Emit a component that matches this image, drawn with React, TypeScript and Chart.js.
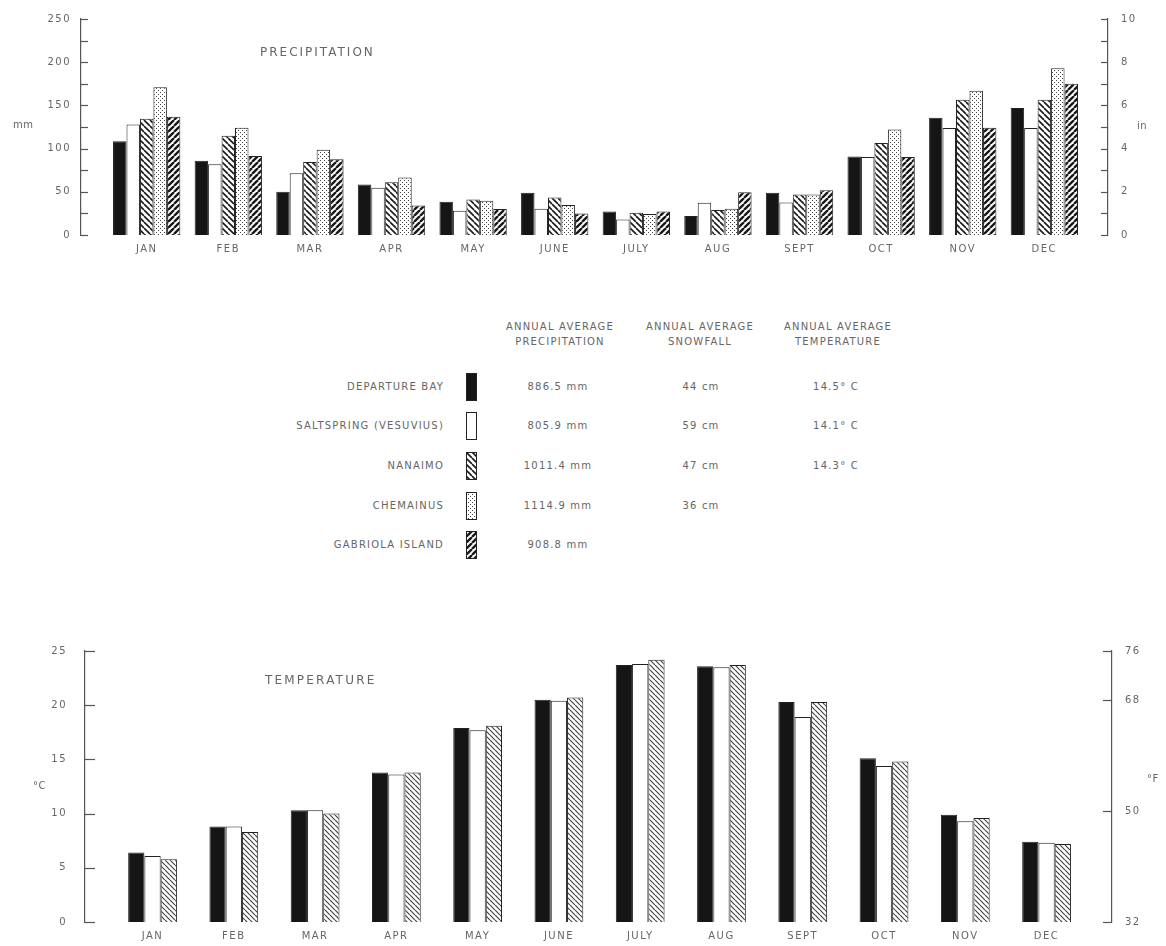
import React, { useEffect, useRef } from 'react';
import { Chart, registerables } from 'chart.js';

Chart.register(...registerables);

const FONT = '"DejaVu Sans", sans-serif';
const TEXT = '#666';
const AXIS = '#555';

// ---------- data ----------
const months = ['JAN', 'FEB', 'MAR', 'APR', 'MAY', 'JUNE', 'JULY', 'AUG', 'SEPT', 'OCT', 'NOV', 'DEC'];
const stations = ['DEPARTURE BAY', 'SALTSPRING (VESUVIUS)', 'NANAIMO', 'CHEMAINUS', 'GABRIOLA ISLAND'];

// monthly precipitation, mm
const precipDepartureBay = [108.5, 85.8, 50, 58.5, 38.5, 48.8, 27.3, 22, 48.8, 91, 135.8, 147];
const precipSaltspring = [128, 82, 71.5, 54.6, 28, 30.4, 18, 37.3, 37.7, 90.4, 123.8, 123.8];
const precipNanaimo = [134.6, 115, 84.6, 61, 41, 43.5, 25.8, 28.8, 46.9, 106.5, 156.5, 156.5];
const precipChemainus = [171, 124, 98.8, 66.5, 39.6, 34.6, 24.2, 30.4, 46.9, 122, 167, 193];
const precipGabriola = [137, 91.5, 87.7, 34, 30, 25, 27.3, 49.6, 51.9, 90.4, 124, 175];

// monthly mean temperature, °C
const tempDepartureBay = [6.4, 8.8, 10.3, 13.8, 17.9, 20.5, 23.7, 23.6, 20.3, 15.1, 9.9, 7.4];
const tempSaltspring = [6.1, 8.8, 10.3, 13.6, 17.7, 20.4, 23.8, 23.5, 18.9, 14.4, 9.3, 7.3];
const tempNanaimo = [5.8, 8.3, 10.0, 13.8, 18.1, 20.7, 24.2, 23.7, 20.3, 14.8, 9.6, 7.2];

// axis ticks
const fahrenheitTicks = [32, 50, 68, 76];

// annual table
const annualPrecip = ['886.5 mm', '805.9 mm', '1011.4 mm', '1114.9 mm', '908.8 mm'];
const annualSnow = ['44 cm', '59 cm', '47 cm', '36 cm', ''];
const annualTemp = ['14.5° C', '14.1° C', '14.3° C', '', ''];

// ---------- patterns ----------
type Kind = 'solid' | 'white' | 'back' | 'dots' | 'fwd' | 'backLight';

function makePattern(kind: Kind): CanvasPattern | string {
  if (kind === 'solid') return '#151515';
  if (kind === 'white') return '#ffffff';
  const size = kind === 'dots' ? 4 : kind === 'backLight' ? 5 : 6;
  const c = document.createElement('canvas');
  c.width = size;
  c.height = size;
  const g = c.getContext('2d')!;
  g.fillStyle = '#fff';
  g.fillRect(0, 0, size, size);
  if (kind === 'dots') {
    g.fillStyle = '#444';
    g.fillRect(0, 0, 1, 1);
    g.fillRect(2, 2, 1, 1);
  } else {
    g.strokeStyle = kind === 'backLight' ? '#444' : '#1a1a1a';
    g.lineWidth = kind === 'fwd' ? 2.4 : kind === 'backLight' ? 1.2 : 1.6;
    g.beginPath();
    for (const o of [-size, 0, size]) {
      if (kind === 'fwd') {
        g.moveTo(o, size);
        g.lineTo(o + size, 0);
      } else {
        g.moveTo(o, 0);
        g.lineTo(o + size, size);
      }
    }
    g.stroke();
  }
  return g.createPattern(c, 'repeat')!;
}

const stationKinds: Kind[] = ['solid', 'white', 'back', 'dots', 'fwd'];

// ---------- plugin: inward tick marks + letter spacing ----------
const inwardTicks = {
  id: 'inwardTicks',
  beforeUpdate(chart: any) {
    chart.ctx.letterSpacing = '1.5px';
  },
  beforeDraw(chart: any) {
    chart.ctx.letterSpacing = '1.5px';
  },
  afterDraw(chart: any, _args: any, opts: any) {
    const { ctx, chartArea } = chart;
    ctx.save();
    ctx.strokeStyle = AXIS;
    ctx.lineWidth = 1.2;
    for (const id of ['y', 'y1']) {
      const s = chart.scales[id];
      if (!s) continue;
      const left = id === 'y';
      const x0 = left ? chartArea.left : chartArea.right;
      const len = left ? opts.leftLen : opts.rightLen;
      for (const t of s.ticks) {
        const y = Math.round(s.getPixelForValue(t.value)) + 0.5;
        ctx.beginPath();
        ctx.moveTo(x0, y);
        ctx.lineTo(left ? x0 + len : x0 - len, y);
        ctx.stroke();
      }
    }
    ctx.restore();
  },
};

const toPoints = (vals: number[]) => vals.map((v, i) => ({ x: i + 1, y: v }));

const noGrid = { display: false, drawTicks: false, tickLength: 0 };

function xScale(min: number, max: number, height: number, padding: number) {
  return {
    type: 'linear',
    min,
    max,
    offset: false,
    grid: { ...noGrid, offset: false },
    border: { display: false },
    afterBuildTicks: (s: any) => {
      s.ticks = months.map((_, i) => ({ value: i + 1 }));
    },
    afterFit: (s: any) => {
      s.height = height;
    },
    ticks: {
      autoSkip: false,
      maxRotation: 0,
      padding,
      color: TEXT,
      font: { family: FONT, size: 10 },
      callback: (v: any) => months[Math.round(Number(v)) - 1] ?? '',
    },
  };
}

function PrecipChart() {
  const ref = useRef<HTMLCanvasElement>(null);
  useEffect(() => {
    const series = [precipDepartureBay, precipSaltspring, precipNanaimo, precipChemainus, precipGabriola];
    const chart = new Chart(ref.current!, {
      type: 'bar',
      data: {
        datasets: series.map((s, i) => ({
          label: stations[i],
          data: toPoints(s) as any,
          backgroundColor: makePattern(stationKinds[i]) as any,
          borderColor: '#222',
          borderWidth: 1,
          categoryPercentage: 0.825,
          barPercentage: 1,
          yAxisID: 'y',
        })),
      },
      options: {
        responsive: false,
        animation: false,
        devicePixelRatio: 1,
        layout: { padding: { top: 17, left: 0, right: 0, bottom: 0 } },
        plugins: {
          legend: { display: false },
          tooltip: { enabled: false },
          inwardTicks: { leftLen: 7, rightLen: 7 },
        } as any,
        scales: {
          x: xScale(0.195, 12.78, 30, 8) as any,
          y: {
            type: 'linear',
            position: 'left',
            min: 0,
            max: 250,
            grid: noGrid,
            border: { display: true, color: AXIS, width: 1.2 },
            afterFit: (s: any) => {
              s.width = 81;
            },
            ticks: {
              stepSize: 25,
              padding: 10,
              color: TEXT,
              font: { family: FONT, size: 10 },
              callback: (v: any) => (Number(v) % 50 === 0 ? String(v) : ''),
            },
          },
          y1: {
            type: 'linear',
            position: 'right',
            min: 0,
            max: 10,
            grid: noGrid,
            border: { display: true, color: AXIS, width: 1.2 },
            afterFit: (s: any) => {
              s.width = 58;
            },
            ticks: {
              stepSize: 1,
              padding: 13,
              color: TEXT,
              font: { family: FONT, size: 10 },
              callback: (v: any) => (Number(v) % 2 === 0 ? String(v) : ''),
            },
          },
        },
      },
      plugins: [inwardTicks],
    });
    return () => chart.destroy();
  }, []);
  return (
    <canvas
      ref={ref}
      width={1166}
      height={265}
      style={{ position: 'absolute', left: 0, top: 0, width: 1166, height: 265 }}
    />
  );
}

function TempChart() {
  const ref = useRef<HTMLCanvasElement>(null);
  useEffect(() => {
    const series = [tempDepartureBay, tempSaltspring, tempNanaimo];
    const kinds: Kind[] = ['solid', 'white', 'backLight'];
    const chart = new Chart(ref.current!, {
      type: 'bar',
      data: {
        datasets: series.map((s, i) => ({
          label: stations[i],
          data: toPoints(s) as any,
          backgroundColor: makePattern(kinds[i]) as any,
          borderColor: '#222',
          borderWidth: 1,
          categoryPercentage: 0.6,
          barPercentage: 1,
          yAxisID: 'y',
        })),
      },
      options: {
        responsive: false,
        animation: false,
        devicePixelRatio: 1,
        layout: { padding: { top: 31, left: 0, right: 0, bottom: 0 } },
        plugins: {
          legend: { display: false },
          tooltip: { enabled: false },
          inwardTicks: { leftLen: 10, rightLen: 9 },
        } as any,
        scales: {
          x: xScale(0.169, 12.805, 23, 8) as any,
          y: {
            type: 'linear',
            position: 'left',
            min: 0,
            max: 25,
            grid: noGrid,
            border: { display: true, color: AXIS, width: 1.2 },
            afterFit: (s: any) => {
              s.width = 85;
            },
            ticks: {
              stepSize: 5,
              padding: 18,
              color: TEXT,
              font: { family: FONT, size: 10 },
            },
          },
          y1: {
            type: 'linear',
            position: 'right',
            min: 32,
            max: 76,
            grid: noGrid,
            border: { display: true, color: AXIS, width: 1.2 },
            afterBuildTicks: (s: any) => {
              s.ticks = fahrenheitTicks.map((v) => ({ value: v }));
            },
            afterFit: (s: any) => {
              s.width = 54;
            },
            ticks: {
              padding: 13,
              color: TEXT,
              font: { family: FONT, size: 10 },
            },
          },
        },
      },
      plugins: [inwardTicks],
    });
    return () => chart.destroy();
  }, []);
  return (
    <canvas
      ref={ref}
      width={1166}
      height={326}
      style={{ position: 'absolute', left: 0, top: 620, width: 1166, height: 326 }}
    />
  );
}

function Swatch({ kind, x, y }: { kind: Kind; x: number; y: number }) {
  const ref = useRef<HTMLCanvasElement>(null);
  useEffect(() => {
    const c = ref.current!;
    const g = c.getContext('2d')!;
    g.clearRect(0, 0, c.width, c.height);
    g.fillStyle = makePattern(kind) as any;
    g.fillRect(0, 0, c.width, c.height);
    g.strokeStyle = '#222';
    g.lineWidth = 1;
    g.strokeRect(0.5, 0.5, c.width - 1, c.height - 1);
  }, [kind]);
  return (
    <canvas
      ref={ref}
      width={11}
      height={28}
      style={{ position: 'absolute', left: x, top: y - 14, width: 11, height: 28 }}
    />
  );
}

type TxtProps = {
  x: number;
  y: number;
  align?: 'left' | 'center' | 'right';
  size?: number;
  spacing?: number;
  children: React.ReactNode;
};

function Txt({ x, y, align = 'left', size = 10, spacing = 1.2, children }: TxtProps) {
  const tx = align === 'left' ? '0' : align === 'center' ? '-50%' : '-100%';
  return (
    <div
      style={{
        position: 'absolute',
        left: x,
        top: y,
        transform: `translate(${tx}, -50%)`,
        whiteSpace: 'nowrap',
        fontFamily: FONT,
        fontSize: size,
        letterSpacing: spacing,
        lineHeight: 1,
        color: TEXT,
      }}
    >
      {children}
    </div>
  );
}

const rowY = [387, 426, 466, 506, 545];

export default function App() {
  return (
    <div
      style={{
        position: 'absolute',
        left: 0,
        top: 0,
        width: 1166,
        height: 946,
        background: '#fff',
        overflow: 'hidden',
      }}
    >
      <PrecipChart />
      <Txt x={260} y={52} size={12} spacing={2}>PRECIPITATION</Txt>
      <Txt x={13} y={125} size={10} spacing={0.5}>mm</Txt>
      <Txt x={1137} y={126} size={10} spacing={0.5}>in</Txt>

      {/* table */}
      <Txt x={560} y={327} align="center">ANNUAL AVERAGE</Txt>
      <Txt x={560} y={342} align="center">PRECIPITATION</Txt>
      <Txt x={700} y={327} align="center">ANNUAL AVERAGE</Txt>
      <Txt x={700} y={342} align="center">SNOWFALL</Txt>
      <Txt x={838} y={327} align="center">ANNUAL AVERAGE</Txt>
      <Txt x={838} y={342} align="center">TEMPERATURE</Txt>
      {stations.map((s, i) => (
        <React.Fragment key={s}>
          <Txt x={444} y={rowY[i]} align="right">{s}</Txt>
          <Swatch kind={stationKinds[i]} x={466} y={rowY[i]} />
          <Txt x={558} y={rowY[i]} align="center">{annualPrecip[i]}</Txt>
          {annualSnow[i] && <Txt x={701} y={rowY[i]} align="center">{annualSnow[i]}</Txt>}
          {annualTemp[i] && <Txt x={836} y={rowY[i]} align="center">{annualTemp[i]}</Txt>}
        </React.Fragment>
      ))}

      <TempChart />
      <Txt x={265} y={680} size={12} spacing={2.2}>TEMPERATURE</Txt>
      <Txt x={33} y={786} size={10} spacing={0.5}>°C</Txt>
      <Txt x={1147} y={779} size={10} spacing={0.5}>°F</Txt>
    </div>
  );
}
